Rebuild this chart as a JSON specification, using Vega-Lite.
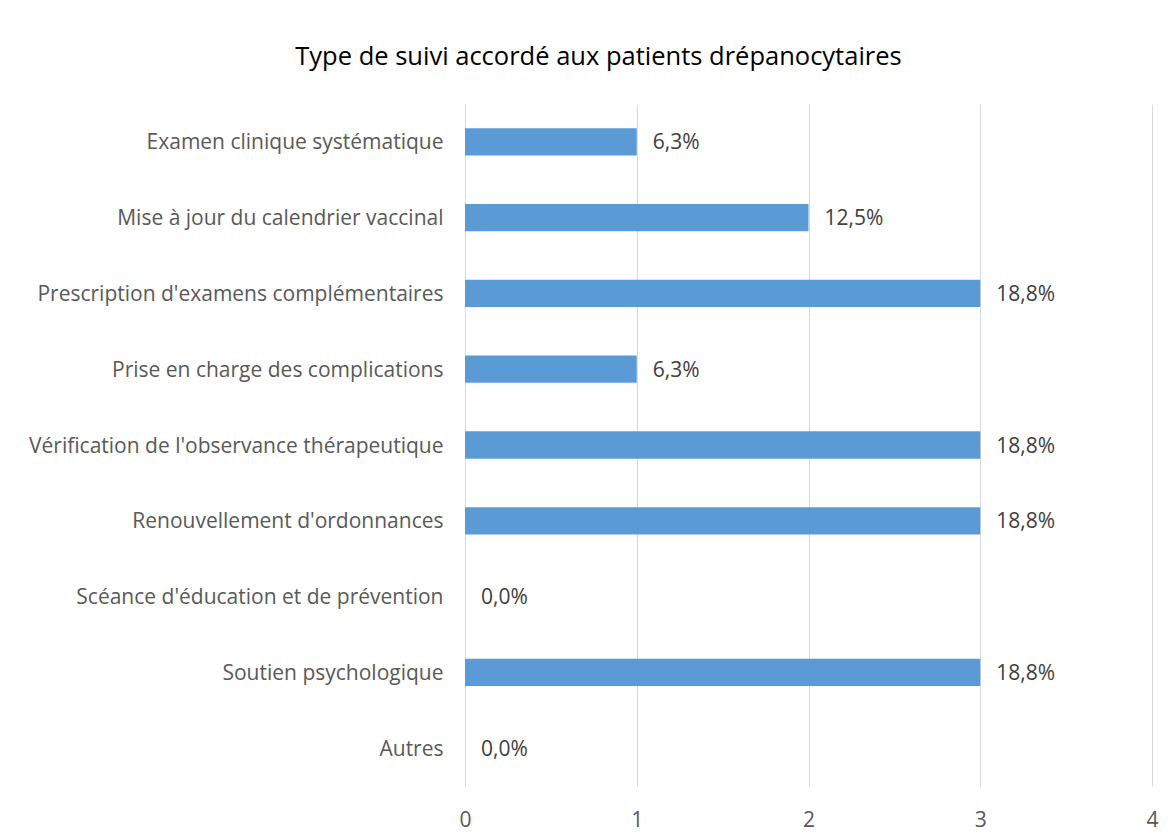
{
  "$schema": "https://vega.github.io/schema/vega-lite/v6.json",
  "width": 687,
  "height": 682,
  "autosize": {"type": "none"},
  "padding": {"left": 465, "top": 104, "right": 23, "bottom": 53},
  "background": "white",
  "config": {
    "view": {"stroke": null},
    "font": "Open Sans"
  },
  "title": {
    "text": "Type de suivi accordé aux patients drépanocytaires",
    "anchor": "middle",
    "frame": "group",
    "dx": -210,
    "offset": 34,
    "fontSize": 25.5,
    "fontWeight": "normal",
    "color": "#000000",
    "font": "Open Sans"
  },
  "data": {
    "values": [
      {"type": "Examen clinique systématique", "n": 1, "pct": "6,3%"},
      {"type": "Mise à jour du calendrier vaccinal", "n": 2, "pct": "12,5%"},
      {"type": "Prescription d'examens complémentaires", "n": 3, "pct": "18,8%"},
      {"type": "Prise en charge des complications", "n": 1, "pct": "6,3%"},
      {"type": "Vérification de l'observance thérapeutique", "n": 3, "pct": "18,8%"},
      {"type": "Renouvellement d'ordonnances", "n": 3, "pct": "18,8%"},
      {"type": "Scéance d'éducation et de prévention", "n": 0, "pct": "0,0%"},
      {"type": "Soutien psychologique", "n": 3, "pct": "18,8%"},
      {"type": "Autres", "n": 0, "pct": "0,0%"}
    ]
  },
  "encoding": {
    "y": {
      "field": "type",
      "type": "nominal",
      "sort": null,
      "title": null,
      "scale": {"paddingInner": 0.64, "paddingOuter": 0.32},
      "axis": {
        "ticks": false,
        "domain": true,
        "domainColor": "#d9d9d9",
        "domainWidth": 1,
        "labelFontSize": 21,
        "labelColor": "#595959",
        "labelPadding": 22,
        "labelOffset": 1.5,
        "labelFont": "Open Sans",
        "labelLimit": 500
      }
    },
    "x": {
      "field": "n",
      "type": "quantitative",
      "title": null,
      "scale": {"domain": [0, 4]},
      "axis": {
        "values": [0, 1, 2, 3, 4],
        "format": "d",
        "ticks": false,
        "domain": false,
        "grid": true,
        "gridColor": "#d9d9d9",
        "gridWidth": 1,
        "labelFontSize": 21,
        "labelColor": "#595959",
        "labelPadding": 23,
        "labelFont": "Open Sans",
        "labelFlush": false
      }
    }
  },
  "layer": [
    {"mark": {"type": "bar", "color": "#5b9bd5"}},
    {
      "mark": {"type": "text", "align": "left", "baseline": "middle", "dx": 16, "dy": 1.5, "fontSize": 21, "color": "#404040", "font": "Open Sans"},
      "encoding": {"text": {"field": "pct"}}
    }
  ]
}
